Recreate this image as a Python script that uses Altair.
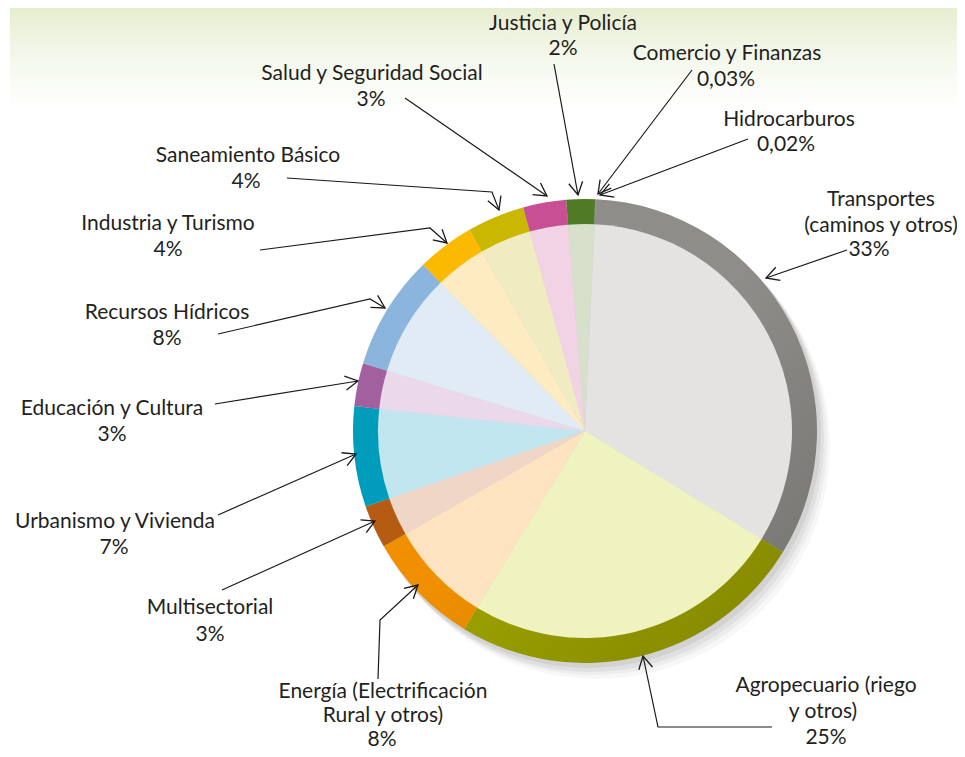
import math
import altair as alt
import pandas as pd

# ---------------- data ----------------
sectors = [
    "Transportes", "Agropecuario", "Energía", "Multisectorial",
    "Urbanismo y Vivienda", "Educación y Cultura", "Recursos Hídricos",
    "Industria y Turismo", "Saneamiento Básico", "Salud y Seguridad Social",
    "Justicia y Policía", "Comercio y Finanzas", "Hidrocarburos",
]
shares = [33, 25, 8, 3, 7, 3, 8, 4, 4, 3, 2, 0.03, 0.02]
label_names = [
    ["Transportes", "(caminos y otros)"],
    ["Agropecuario (riego", "y otros)"],
    ["Energía (Electrificación", "Rural y otros)"],
    ["Multisectorial"],
    ["Urbanismo y Vivienda"],
    ["Educación y Cultura"],
    ["Recursos Hídricos"],
    ["Industria y Turismo"],
    ["Saneamiento Básico"],
    ["Salud y Seguridad Social"],
    ["Justicia y Policía"],
    ["Comercio y Finanzas"],
    ["Hidrocarburos"],
]

# ---------------- styles ----------------
ring_colors = ["#8e8d89", "#9ea300", "#f09000", "#b55b12", "#009cbc", "#a3609f",
               "#8bb5dd", "#fbb900", "#cab700", "#c84f94", "#517a26", "#4d6e2a", "#7a7a7a"]
fill_colors = ["#e4e3e2", "#eff3bf", "#fde3c0", "#efd6c7", "#c1e6ef", "#ebd8ea",
               "#e1ebf6", "#fdecc1", "#f0ebc1", "#f2d3e6", "#d6e0cb", "#d6e0cb", "#e4e3e2"]

# ---------------- layout (image pixel coordinates) ----------------
W, H = 949, 741
CX, CY = 585, 431          # pie centre
R_OUT, R_IN = 232, 206
START = math.radians(2.7)  # rotation of first slice

label_pos = [
    [(881, 200), (881, 226), (869, 250)],
    [(826, 686), (823, 712), (826, 738)],
    [(383, 692), (383, 716), (382, 740)],
    [(210, 608), (210, 635)],
    [(115, 522), (114, 548)],
    [(112, 409), (112, 435)],
    [(167, 313), (167, 339)],
    [(168, 224), (168, 250)],
    [(248, 156), (246, 182)],
    [(372, 74), (371, 100)],
    [(563, 24), (563, 49)],
    [(727, 54), (726, 80)],
    [(789, 120), (786, 145)],
]
arrow_paths = [
    [(847, 250), (766, 278)],
    [(772, 727), (658, 727), (643, 656)],
    [(378, 679), (380, 620), (418, 585)],
    [(222, 590), (375, 521)],
    [(218, 515), (356, 454)],
    [(215, 404), (358, 381)],
    [(218, 334), (370, 299), (385, 308)],
    [(260, 250), (430, 228), (447, 243)],
    [(287, 178), (492, 192), (499, 210)],
    [(405, 98), (547, 196)],
    [(554, 64), (578, 195)],
    [(692, 70), (598, 194)],
    [(748, 139), (600, 195)],
]


def pct_text(v):
    return f"{v:g}".replace(".", ",") + "%"


pie_df = pd.DataFrame({
    "sector": sectors,
    "share": shares,
    "order": list(range(len(sectors))),
    "ring": ring_colors,
    "light": fill_colors,
})

text_rows = []
for i, names in enumerate(label_names):
    lines = names + [pct_text(shares[i])]
    for t, (x, y) in zip(lines, label_pos[i]):
        text_rows.append({"text": t, "x": x, "y": y})
text_df = pd.DataFrame(text_rows)

line_rows, head_rows = [], []
for i, path in enumerate(arrow_paths):
    for j, (x, y) in enumerate(path):
        line_rows.append({"id": i, "seq": j, "x": x, "y": y})
    (x0, y0), (x1, y1) = path[-2], path[-1]
    ang = math.degrees(math.atan2(x1 - x0, -(y1 - y0))) % 360
    head_rows.append({"x": x1, "y": y1, "ang": ang})
line_df = pd.DataFrame(line_rows)
head_df = pd.DataFrame(head_rows)

xs = alt.Scale(domain=[8, 8 + W], nice=False, zero=False)
ys = alt.Scale(domain=[8 + H, 8], nice=False, zero=False)

one = pd.DataFrame({"k": [0]})

# background band
bg = alt.Chart(one).mark_rect(
    fill=alt.Gradient(
        gradient="linear", x1=0, y1=0, x2=0, y2=1,
        stops=[alt.GradientStop(color="#e6eed0", offset=0),
               alt.GradientStop(color="#f3f7ea", offset=0.45),
               alt.GradientStop(color="#ffffff", offset=1)],
    )
).encode(x=alt.value(2), x2=alt.value(W), y=alt.value(0), y2=alt.value(100))

# soft shadow (bottom-right only)
shadows = []
for (dx, dy, dr, op) in [(12, 15, 1, 0.03), (9, 11, 1, 0.04), (6, 8, 1, 0.05), (3, 4, 1, 0.06)]:
    shadows.append(
        alt.Chart(one).mark_arc(theta=0, theta2=2 * math.pi, outerRadius=R_OUT + dr,
                                fill="#000000", opacity=op)
        .encode(x=alt.value(CX - 8 + dx), y=alt.value(CY - 8 + dy))
    )

theta_enc = alt.Theta("share:Q", stack=True,
                      scale=alt.Scale(range=[START, START + 2 * math.pi]))

ring = alt.Chart(pie_df).mark_arc(outerRadius=R_OUT, innerRadius=R_IN).encode(
    theta=theta_enc,
    order=alt.Order("order:Q"),
    color=alt.Color("ring:N", scale=None),
    x=alt.value(CX - 8), y=alt.value(CY - 8),
)
# shading of the ring: lighter upper-left, darker lower-right
ring_shade = alt.Chart(one).mark_arc(
    theta=0, theta2=2 * math.pi, outerRadius=R_OUT, innerRadius=R_IN,
    fill=alt.Gradient(
        gradient="linear", x1=0, y1=0, x2=1, y2=1,
        stops=[alt.GradientStop(color="rgba(255,255,255,0.0)", offset=0),
               alt.GradientStop(color="rgba(0,0,0,0.0)", offset=0.5),
               alt.GradientStop(color="rgba(0,0,0,0.2)", offset=1)],
    ),
).encode(x=alt.value(CX - 8), y=alt.value(CY - 8))

inner = alt.Chart(pie_df).mark_arc(outerRadius=R_IN + 1).encode(
    theta=theta_enc,
    order=alt.Order("order:Q"),
    color=alt.Color("light:N", scale=None),
    x=alt.value(CX - 8), y=alt.value(CY - 8),
)

lines = alt.Chart(line_df).mark_line(color="#1a1a1a", strokeWidth=1.2).encode(
    x=alt.X("x:Q", scale=xs, axis=None),
    y=alt.Y("y:Q", scale=ys, axis=None),
    detail="id:N",
    order="seq:Q",
)

heads = alt.Chart(head_df).mark_point(
    shape="M -0.55 1 L 0 0 L 0.55 1", filled=False, color="#1a1a1a",
    strokeWidth=1.3, size=650, opacity=1,
).encode(
    x=alt.X("x:Q", scale=xs, axis=None),
    y=alt.Y("y:Q", scale=ys, axis=None),
    angle=alt.Angle("ang:Q", scale=None),
)

texts = alt.Chart(text_df).mark_text(
    font="Lato", fontSize=21, color="#231f20", align="center", baseline="middle",
).encode(
    x=alt.X("x:Q", scale=xs, axis=None),
    y=alt.Y("y:Q", scale=ys, axis=None),
    text="text:N",
)

chart = alt.layer(bg, *shadows, ring, ring_shade, inner, lines, heads, texts).properties(
    width=W, height=H, padding=0, autosize=alt.AutoSizeParams(type="none"),
    background="#ffffff",
).configure_view(stroke=None)

chart.save("out.html", embed_options={"renderer": "svg", "actions": False})
